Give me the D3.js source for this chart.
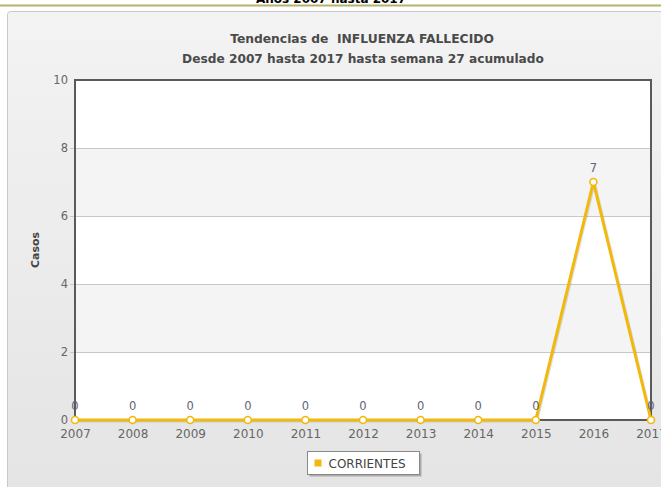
<!DOCTYPE html>
<html>
<head>
<meta charset="utf-8">
<script src="https://cdn.jsdelivr.net/npm/d3@7"></script>
<style>
  body { margin: 0; background: #fff; overflow: hidden; }
  svg { display: block; font-family: "DejaVu Sans", Verdana, sans-serif; }
</style>
</head>
<body>
<svg id="chart" width="661" height="487"></svg>
<script>
const years = ["2007","2008","2009","2010","2011","2012","2013","2014","2015","2016","2017"];
const casos = [0,0,0,0,0,0,0,0,0,7,0];
const yTicks = [0,2,4,6,8,10];
const seriesName = "CORRIENTES";
const pageTitle = "Años 2007 hasta 2017";
const title1 = "Tendencias de  INFLUENZA FALLECIDO";
const title2 = "Desde 2007 hasta 2017 hasta semana 27 acumulado";

const svg = d3.select("#chart");
const W = 661, H = 487;
const m = {left: 75, right: 651, top: 80, bottom: 420};

const defs = svg.append("defs");
const grad = defs.append("linearGradient")
    .attr("id", "bg").attr("x1", 0).attr("y1", 0).attr("x2", 0).attr("y2", 1);
grad.append("stop").attr("offset", "0%").attr("stop-color", "#f3f3f3");
grad.append("stop").attr("offset", "100%").attr("stop-color", "#e4e4e4");

// page header (cut off at top, as in the page)
svg.append("text")
    .attr("x", 331).attr("y", 3)
    .attr("text-anchor", "middle")
    .style("font-size", "12px").style("font-weight", "bold")
    .attr("fill", "#000")
    .text(pageTitle);
svg.append("rect")
    .attr("x", 0).attr("y", 4.5).attr("width", W).attr("height", 2)
    .attr("fill", "#b7b26c");

// chart panel
svg.append("rect")
    .attr("x", 7.5).attr("y", 11.5).attr("width", W + 10).attr("height", H)
    .attr("rx", 3)
    .attr("fill", "url(#bg)")
    .attr("stroke", "#c8c8c8");

const x = d3.scalePoint().domain(years).range([m.left, m.right]);
const y = d3.scaleLinear().domain([0, 10]).range([m.bottom, m.top]);

// plot background bands
const g = svg.append("g");
g.selectAll("rect.band")
  .data(d3.pairs(yTicks))
  .join("rect")
    .attr("class", "band")
    .attr("x", m.left).attr("width", m.right - m.left)
    .attr("y", d => y(d[1])).attr("height", d => y(d[0]) - y(d[1]))
    .attr("fill", (d, i) => i % 2 ? "#f4f4f4" : "#ffffff");

// grid lines
g.selectAll("line.grid")
  .data(yTicks.slice(1, -1))
  .join("line")
    .attr("class", "grid")
    .attr("x1", m.left - 5).attr("x2", m.right)
    .attr("y1", d => Math.round(y(d)) + 0.5).attr("y2", d => Math.round(y(d)) + 0.5)
    .attr("stroke", "#c8c8c8");

// plot frame
g.append("rect")
    .attr("x", m.left).attr("y", m.top)
    .attr("width", m.right - m.left).attr("height", m.bottom - m.top)
    .attr("fill", "none").attr("stroke", "#5a5a5a").attr("stroke-width", 2);

// y axis
const yAxis = d3.axisLeft(y).tickValues(yTicks).tickSize(0).tickPadding(6);
const ya = svg.append("g").attr("transform", `translate(${m.left - 1},0)`).call(yAxis);
ya.select(".domain").remove();
ya.selectAll("text")
    .attr("fill", "#666").style("font-size", "11.5px")
    .style("font-family", "DejaVu Sans, sans-serif");

// x axis
const xAxis = d3.axisBottom(x).tickSize(0).tickPadding(9);
const xa = svg.append("g").attr("transform", `translate(0,${m.bottom})`).call(xAxis);
xa.select(".domain").remove();
xa.selectAll("text")
    .attr("fill", "#666").style("font-size", "12px")
    .style("font-family", "DejaVu Sans, sans-serif");

// axis title
svg.append("text")
    .attr("transform", `translate(39,${(m.top + m.bottom) / 2}) rotate(-90)`)
    .attr("text-anchor", "middle")
    .style("font-size", "11px").style("font-weight", "bold")
    .attr("fill", "#444")
    .text("Casos");

// titles
svg.append("text")
    .attr("x", (m.left + m.right) / 2 - 1).attr("y", 43)
    .attr("text-anchor", "middle")
    .style("font-size", "12.3px").style("font-weight", "bold")
    .style("white-space", "pre")
    .attr("fill", "#4a4a4a")
    .text(title1);
svg.append("text")
    .attr("x", (m.left + m.right) / 2).attr("y", 63)
    .attr("text-anchor", "middle")
    .style("font-size", "12.2px").style("font-weight", "bold")
    .attr("fill", "#4a4a4a")
    .text(title2);

// line series
const pts = years.map((yr, i) => [x(yr), y(casos[i])]);
const line = d3.line();
svg.append("path")
    .attr("d", line(pts.map(p => [p[0] + 1, p[1] + 1])))
    .attr("fill", "none").attr("stroke", "rgba(0,0,0,0.12)").attr("stroke-width", 3);
svg.append("path")
    .attr("d", line(pts))
    .attr("fill", "none").attr("stroke", "#f2b80c").attr("stroke-width", 3)
    .attr("stroke-linejoin", "round");

svg.selectAll("circle.pt")
  .data(pts)
  .join("circle")
    .attr("class", "pt")
    .attr("cx", d => d[0]).attr("cy", d => d[1]).attr("r", 3.5)
    .attr("fill", "#fff").attr("stroke", "#f2b80c").attr("stroke-width", 1.6);

svg.selectAll("text.val")
  .data(casos)
  .join("text")
    .attr("class", "val")
    .attr("x", (d, i) => x(years[i])).attr("y", d => y(d) - 10)
    .attr("text-anchor", "middle")
    .style("font-size", "11.5px")
    .attr("fill", "#5f6374")
    .text(d => d);

// legend
const lg = svg.append("g").attr("transform", "translate(307.5,451.5)");
lg.append("rect").attr("x", 2).attr("y", 2).attr("width", 112).attr("height", 23)
    .attr("fill", "rgba(0,0,0,0.25)");
lg.append("rect").attr("width", 112).attr("height", 23)
    .attr("fill", "#fff").attr("stroke", "#888");
lg.append("rect").attr("x", 7).attr("y", 8).attr("width", 7).attr("height", 7)
    .attr("fill", "#f2b80c");
lg.append("text").attr("x", 21).attr("y", 16)
    .style("font-size", "12px").attr("fill", "#444")
    .text(seriesName);
</script>
</body>
</html>
